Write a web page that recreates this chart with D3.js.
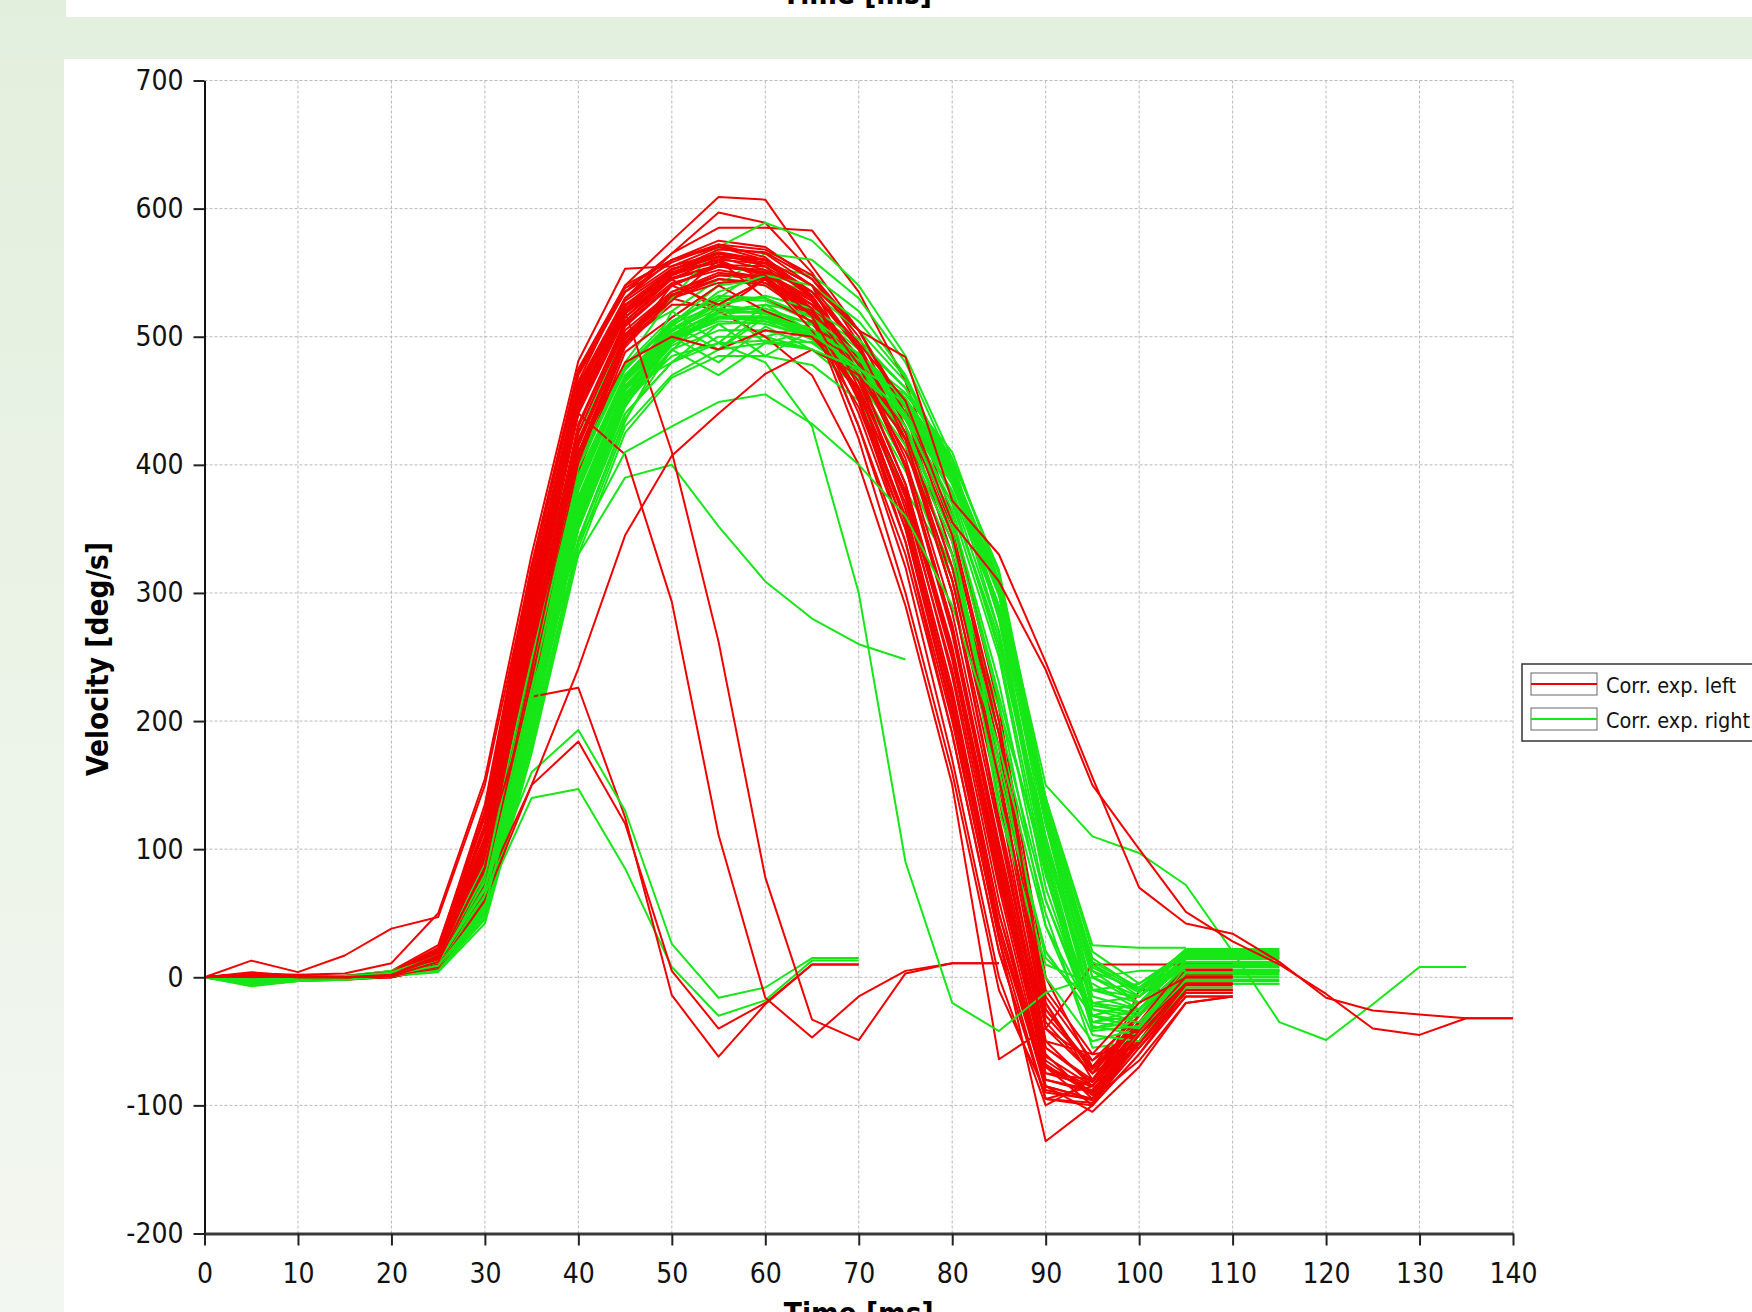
<!DOCTYPE html>
<html>
<head>
<meta charset="utf-8">
<script src="https://cdn.jsdelivr.net/npm/d3@7/dist/d3.min.js"></script>
<style>
  body { margin: 0; background: #ffffff; }
  svg { display: block; }
</style>
</head>
<body>
<svg id="svg"></svg>
<script>
// sample times (ms), one value every 5 ms
const timesMs = [0, 5, 10, 15, 20, 25, 30, 35, 40, 45, 50, 55, 60, 65, 70, 75, 80, 85, 90, 95, 100, 105, 110, 115, 120, 125, 130, 135, 140];
const xTicks = [0, 10, 20, 30, 40, 50, 60, 70, 80, 90, 100, 110, 120, 130, 140];
const yTicks = [-200, -100, 0, 100, 200, 300, 400, 500, 600, 700];
const legendLabels = ["Corr. exp. left", "Corr. exp. right"];

// Corr. exp. left (red) velocity traces [deg/s]
const leftSeries = [
  [0, 2, 0, 0, 2, 14, 95, 280, 445, 515, 545, 555, 550, 525, 470, 385, 250, 80, -75, -85, -40, -5, -5],
  [0, 1, -1, 0, 1, 10, 75, 250, 425, 505, 535, 548, 545, 520, 465, 375, 235, 60, -85, -95, -10, -10, -10],
  [0, 3, 1, 0, 3, 18, 110, 300, 460, 530, 560, 575, 570, 545, 500, 430, 320, 170, -20, -80, -35, 0, 0],
  [0, 4, 1, 1, 5, 25, 130, 315, 470, 535, 565, 585, 585, 583, 535, 465, 360, 210, 0, -70, -25, 5, 5],
  [0, 0, -2, -2, 0, 8, 60, 228, 400, 492, 530, 520, 545, 515, 480, 420, 340, 200, -10, -60, -55, -15, -15],
  [0, 13, 4, 17, 38, 47, 150, 320, 475, 540, 560, 570, 560, 530, 450, 340, 190, 20, -95, -100, -50, -10, -10],
  [0, 3, 2, 3, 11, 50, 155, 330, 481, 553, 555, 565, 555, 520, 430, 320, 170, 0, -100, -80, -30, 5, 5],
  [0, 2, 0, 0, 2, 18, 115, 305, 465, 540, 575, 609, 607, 555, 505, 440, 330, 180, -30, -70, -35, 0, 0],
  [0, 1, 0, -1, 1, 15, 100, 290, 455, 530, 565, 597, 589, 550, 495, 420, 300, 140, -50, -85, -45, -5, -5],
  [0, 2, 1, 0, 2, 12, 85, 265, 430, 510, 540, 555, 550, 520, 440, 340, 200, 30, -128, -100, -60, -10, -10],
  [0, 1, 0, 0, 1, 10, 80, 255, 420, 500, 530, 545, 540, 515, 455, 360, 220, 50, -85, -105, -70, -20, -15],
  [0, 2, 0, -1, 2, 16, 105, 295, 450, 520, 550, 560, 545, 515, 420, 300, 160, -10, -90, -95, -50, 0, 0],
  [0, 3, 1, 1, 3, 20, 120, 310, 462, 525, 545, 520, 500, 470, 400, 290, 150, -64, -40, 10, 10, 10, 10],
  [0, 1, -1, -1, 0, 8, 65, 235, 405, 495, 525, 525, 545, 510, 470, 410, 330, 190, -20, -75, -50, -10, -10],
  [0, 2, 0, 0, 3, 22, 125, 305, 455, 520, 545, 555, 550, 530, 480, 400, 275, 100, -70, -85, -40, 10, 10],
  [0, 0, -1, 0, 1, 9, 70, 240, 410, 498, 530, 542, 545, 525, 485, 420, 310, 150, -40, -75, -30, 5, 5],
  [0, 2, 1, 0, 2, 14, 90, 270, 440, 515, 548, 565, 560, 535, 490, 415, 300, 125, -40, -65, -30, 5, 5],
  [0, 3, 0, 0, 2, 17, 108, 298, 458, 528, 553, 562, 552, 522, 450, 350, 210, 40, -80, -90, -50, -10, -10],
  [0, 1, 0, -1, 1, 11, 78, 248, 415, 500, 532, 548, 548, 528, 478, 398, 268, 95, -60, -95, -65, -20, -15],
  [0, 2, 1, 1, 3, 19, 118, 308, 463, 530, 555, 570, 565, 540, 470, 365, 225, 50, -75, -80, -35, 0, 0],
  [0, 1, 0, 0, 2, 13, 88, 262, 430, 512, 542, 552, 546, 520, 465, 378, 248, 75, -70, -100, -60, -15, -15],
  [0, 2, 0, 0, 2, 15, 98, 282, 448, 520, 552, 568, 566, 545, 505, 445, 350, 200, -25, -70, -40, 0, 0],
  [0, 0, -2, -1, 0, 7, 55, 222, 395, 488, 515, 540, 520, 505, 455, 375, 255, 90, -65, -90, -50, -5, -5],
  [0, 3, 1, 0, 3, 21, 128, 318, 472, 535, 558, 572, 562, 532, 460, 355, 215, 35, -85, -95, -45, 5, 5],
  [0, 1, 0, 0, 1, 12, 82, 256, 425, 508, 540, 556, 555, 532, 480, 400, 275, 105, -55, -80, -40, 0, 0],
  [0, 2, 0, 0, 2, 14, 92, 275, 442, 518, 548, 560, 557, 535, 492, 425, 320, 160, -35, -75, -35, 10, 10],
  [0, 1, -1, 0, 1, 10, 72, 245, 415, 502, 533, 545, 542, 518, 430, 330, 190, 20, -95, -85, -40, -5, -5],
  [0, 2, 0, 0, 2, 16, 102, 288, 452, 522, 550, 563, 558, 530, 472, 385, 255, 80, -70, -90, -45, -5, -5],
  [0, 1, 0, 0, 1, 9, 68, 238, 408, 496, 528, 560, 530, 512, 458, 370, 240, 70, -80, -88, -45, -8, -8],
  [0, 2, 1, 0, 3, 19, 115, 302, 458, 525, 552, 566, 560, 532, 482, 405, 285, 115, -55, -82, -40, 3, 3],
  [0, 1, -1, -1, 1, 11, 80, 252, 418, 502, 535, 550, 546, 522, 470, 385, 258, 88, -68, -92, -52, -12, -12],
  [0, 3, 1, 1, 4, 23, 135, 322, 474, 538, 560, 572, 568, 548, 505, 440, 345, 190, -15, -65, -40, -5, -5],
  [0, 0, -1, -1, 0, 9, 66, 232, 402, 494, 540, 525, 545, 505, 445, 350, 205, 30, -95, -98, -55, -12, -12],
  [0, 2, 0, 0, 2, 15, 96, 278, 446, 518, 546, 556, 550, 528, 478, 398, 272, 100, -62, -85, -42, 6, 6],
  [0, 1, 0, 0, 1, 12, 86, 262, 432, 512, 545, 562, 560, 540, 492, 420, 310, 155, -25, -72, -38, 2, 2],
  [0, 2, 1, 0, 2, 17, 106, 292, 452, 524, 550, 558, 548, 516, 452, 356, 218, 42, -88, -96, -52, -6, -6],
  [0, 1, 0, 0, 1, 9, 70, 240, 410, 480, 500, 490, 505, 500, 460, 380, 255, 85, -70, -90, -45, -5, -5],
  // irregular trials
  [0, 2, 0, 0, 2, 15, 100, 219, 226, 125, -14, -62, -21, 10, 10],
  [0, 1, 0, 0, 1, 10, 70, 150, 184, 120, 5, -40, -20, 10, 10],
  [0, 2, 0, 0, 2, 14, 95, 290, 440, 408, 293, 111, -16, -47, -15, 5, 11, 11],
  [0, 2, 0, 0, 2, 16, 100, 300, 460, 520, 410, 262, 78, -33, -49, 3, 11, 11],
  [0, 1, 0, 0, 1, 8, 60, 150, 241, 345, 407, 440, 471, 490, 470, 420, 300, 120, -50, -60, -20, 0, 0],
  [0, 2, 0, 0, 2, 15, 100, 285, 450, 520, 550, 565, 560, 540, 505, 484, 372, 330, 246, 156, 70, 42, 34, 12, -16, -26, -29, -32, -32],
  [0, 1, 0, 0, 1, 12, 85, 265, 430, 510, 540, 555, 552, 535, 495, 450, 355, 309, 240, 150, 100, 51, 28, 10, -13, -40, -45, -32, -32]
];

// Corr. exp. right (green) velocity traces [deg/s]
const rightSeries = [
  [0, -5, -2, -1, 2, 8, 55, 200, 360, 450, 490, 505, 505, 495, 470, 430, 360, 220, 80, -20, -30, 10, 10, 10],
  [0, -3, -1, 0, 3, 12, 70, 220, 380, 465, 500, 515, 515, 500, 475, 435, 370, 260, 100, -10, -20, 15, 15, 15],
  [0, -7, -3, -2, 1, 5, 45, 180, 335, 430, 470, 490, 495, 490, 470, 440, 385, 290, 130, 10, -10, 18, 18, 18],
  [0, -2, 0, 0, 4, 15, 85, 245, 400, 475, 510, 525, 520, 505, 480, 440, 365, 250, 70, -35, -25, 5, 5, 5],
  [0, -4, -2, -1, 2, 10, 60, 205, 365, 455, 495, 520, 500, 510, 478, 445, 390, 300, 120, 0, -15, 20, 20, 20],
  [0, -6, -2, -1, 1, 6, 50, 190, 350, 440, 480, 500, 500, 490, 460, 395, 320, 200, 60, -30, -40, 0, 0, 0],
  [0, -1, 0, 1, 5, 18, 95, 280, 425, 500, 520, 545, 540, 520, 490, 445, 375, 255, 80, -40, -30, 5, 5, 5],
  [0, -3, -1, 0, 3, 11, 65, 212, 372, 460, 500, 520, 522, 510, 485, 450, 395, 305, 125, 5, -10, 12, 12, 12],
  [0, -5, -2, -1, 2, 7, 52, 195, 352, 445, 500, 490, 520, 505, 480, 440, 370, 265, 110, -20, -25, 8, 8, 8],
  [0, -2, 0, 0, 3, 14, 80, 238, 392, 470, 505, 525, 520, 500, 465, 400, 310, 190, 50, -55, -50, -5, -5, -5],
  [0, 2, 1, 0, 4, 16, 90, 255, 405, 478, 515, 540, 545, 535, 505, 465, 400, 300, 130, -10, -15, 15, 15, 15],
  [0, -4, -1, 0, 2, 9, 58, 200, 358, 450, 495, 520, 525, 518, 495, 460, 405, 315, 140, 20, -5, 20, 20, 20],
  [0, -3, -1, -1, 2, 10, 62, 208, 368, 458, 500, 530, 555, 548, 520, 470, 395, 285, 120, -25, -35, 0, 0, 0],
  [0, -6, -3, -2, 1, 4, 42, 175, 330, 425, 468, 485, 485, 478, 450, 380, 320, 210, 90, -30, -40, -5, -5, -5],
  [0, -2, 0, 1, 4, 13, 78, 235, 388, 468, 510, 540, 565, 560, 530, 480, 400, 280, 100, -35, -30, 10, 10, 10],
  [0, -1, 0, 0, 3, 15, 82, 242, 395, 480, 530, 570, 589, 575, 540, 485, 405, 285, 95, -40, -35, 5, 5, 5],
  [0, -5, -2, -1, 2, 8, 55, 198, 356, 448, 510, 490, 515, 498, 476, 442, 388, 298, 130, 15, -10, 22, 22, 22],
  [0, -3, -1, 0, 3, 12, 68, 215, 375, 462, 500, 515, 512, 498, 465, 415, 330, 150, 20, -30, -20, 12, 12, 12],
  [0, -4, -1, 0, 2, 10, 60, 203, 362, 455, 497, 518, 520, 510, 487, 452, 398, 310, 135, 5, -20, 18, 18, 18],
  [0, -2, 0, 0, 4, 14, 76, 232, 386, 466, 505, 522, 518, 503, 470, 420, 340, 170, 15, -20, -15, 10, 10, 10],
  [0, -6, -3, -1, 1, 6, 48, 185, 342, 436, 490, 470, 495, 505, 468, 425, 345, 130, 10, -5, -25, 6, 6, 6],
  [0, -3, -1, 0, 3, 11, 66, 213, 373, 460, 498, 512, 510, 500, 480, 448, 392, 300, 120, 0, -20, 10, 10, 10],
  [0, -1, 0, 1, 5, 17, 92, 252, 402, 476, 512, 530, 528, 512, 485, 445, 378, 270, 105, -25, -30, 5, 5, 5],
  [0, -5, -2, -1, 2, 8, 54, 196, 354, 447, 489, 525, 495, 496, 476, 445, 395, 308, 130, 10, -15, 16, 16, 16],
  [0, -2, 0, 0, 3, 13, 74, 228, 382, 465, 502, 520, 518, 505, 472, 425, 350, 140, 0, -50, -40, -3, -3, -3],
  [0, -4, -2, -1, 2, 9, 57, 199, 360, 452, 493, 510, 512, 505, 486, 456, 404, 318, 140, 25, 23, 23],
  [0, -3, -1, 0, 2, 10, 62, 205, 366, 455, 496, 515, 515, 505, 482, 450, 398, 305, 125, -10, -5, 17, 17, 17],
  [0, -1, 0, 0, 4, 14, 78, 236, 388, 468, 506, 528, 530, 515, 480, 430, 345, 160, 20, -30, -35, 2, 2, 2],
  [0, -4, -2, -1, 2, 9, 56, 198, 358, 450, 520, 495, 525, 504, 484, 452, 400, 300, 120, -15, -25, 14, 14, 14],
  [0, -2, 0, 0, 3, 13, 75, 232, 385, 466, 504, 525, 532, 522, 498, 460, 395, 280, 90, -38, -45, -2, -2, -2],
  [0, -5, -2, -1, 2, 8, 52, 192, 350, 460, 480, 510, 485, 505, 472, 440, 385, 290, 135, 8, -12, 19, 19, 19],
  [0, -1, 0, 0, 4, 16, 88, 248, 398, 474, 512, 532, 530, 515, 486, 440, 355, 215, 40, -45, -50, -8, -8],
  [0, -3, -1, 0, 3, 11, 64, 210, 370, 458, 498, 516, 516, 506, 482, 446, 388, 290, 110, -22, -28, 9, 9, 9],
  [0, -6, -3, -2, 1, 5, 46, 182, 340, 434, 500, 480, 508, 490, 470, 438, 380, 285, 140, 12, -8, 21, 21, 21],
  [0, -2, 0, 0, 3, 14, 80, 240, 392, 470, 508, 535, 548, 540, 512, 468, 392, 270, 85, -42, -38, 4, 4, 4],
  [0, -4, -1, 0, 2, 10, 60, 204, 364, 454, 496, 514, 514, 502, 476, 436, 360, 230, 60, -35, -40, 3, 3, 3],
  // irregular trials
  [0, -3, -1, 0, 2, 10, 60, 140, 147, 85, 8, -30, -18, 13, 13],
  [0, -2, 0, 1, 3, 12, 70, 160, 193, 130, 26, -16, -8, 15, 15],
  [0, -4, -1, 0, 2, 9, 60, 220, 330, 390, 400, 352, 309, 280, 260, 248],
  [0, -3, -1, 0, 3, 12, 70, 225, 340, 410, 430, 449, 455, 432, 400, 360, 290, 180, 40, -30, -20, 10, 10, 10],
  [0, -2, 0, 0, 3, 12, 68, 215, 370, 450, 485, 495, 480, 430, 300, 90, -20, -42, -12, 0, 5, 5],
  [0, -4, -1, 0, 2, 9, 55, 195, 350, 440, 480, 495, 497, 490, 475, 455, 410, 310, 150, 110, 97, 72, 20, -35, -49, -21, 8, 8]
];

const w = 1752;
const h = 1312;
const margin = { left: 204.5, right: 1513, top: 80.5, bottom: 1233.5 };
const redColor = "#f00000";
const greenColor = "#17e617";
const tickFont = "'DejaVu Sans Condensed', 'Liberation Sans', sans-serif";

let svg = d3.select("#svg")
  .attr("width", w)
  .attr("height", h)
  .attr("viewBox", "0 0 " + w + " " + h);

// page background (green frame of the original slide)
let defs = svg.append("defs");
let grad = defs.append("linearGradient")
  .attr("id", "sideGrad")
  .attr("x1", 0).attr("y1", 0).attr("x2", 0).attr("y2", 1);
grad.append("stop").attr("offset", "0%").attr("stop-color", "#e3efdd");
grad.append("stop").attr("offset", "100%").attr("stop-color", "#f3f7f1");

svg.append("rect").attr("x", 0).attr("y", 0).attr("width", w).attr("height", h).attr("fill", "#ffffff");
svg.append("rect").attr("x", 0).attr("y", 0).attr("width", 66).attr("height", h).attr("fill", "url(#sideGrad)");
svg.append("rect").attr("x", 0).attr("y", 17).attr("width", w).attr("height", 42).attr("fill", "#e4f0df");
svg.append("rect").attr("x", 67).attr("y", 0).attr("width", w - 67).attr("height", 17).attr("fill", "#ffffff");
svg.append("rect").attr("x", 64).attr("y", 59).attr("width", w - 64).attr("height", h - 59).attr("fill", "#ffffff");

// bottom of the previous chart's axis title, cut by the page top
svg.append("text")
  .attr("x", 857)
  .attr("y", 4)
  .attr("text-anchor", "middle")
  .style("font-family", tickFont)
  .style("font-size", "29.5px")
  .style("font-weight", "bold")
  .text("Time [ms]");

let xScale = d3.scaleLinear().domain([0, 140]).range([margin.left, margin.right]);
let yScale = d3.scaleLinear().domain([-200, 700]).range([margin.bottom, margin.top]);

// grid
let grid = svg.append("g").attr("class", "grid");
grid.selectAll(".vgrid")
  .data(xTicks.filter(d => d > 0))
  .enter()
  .append("line")
  .attr("x1", d => xScale(d)).attr("x2", d => xScale(d))
  .attr("y1", margin.top).attr("y2", margin.bottom)
  .attr("stroke", "#b9b9b9").attr("stroke-width", 1).attr("stroke-dasharray", "3,2");
grid.selectAll(".hgrid")
  .data(yTicks.filter(d => d > -200))
  .enter()
  .append("line")
  .attr("x1", margin.left).attr("x2", margin.right)
  .attr("y1", d => yScale(d)).attr("y2", d => yScale(d))
  .attr("stroke", "#b9b9b9").attr("stroke-width", 1).attr("stroke-dasharray", "3,2");

// traces, left and right trials interleaved
let line = d3.line()
  .x((d, i) => xScale(timesMs[i]))
  .y(d => yScale(d));

let traces = svg.append("g").attr("class", "traces")
  .attr("fill", "none")
  .attr("stroke-width", 2)
  .attr("stroke-linejoin", "round");

let n = Math.max(leftSeries.length, rightSeries.length);
for (let i = 0; i < n; i++) {
  if (leftSeries[i]) {
    traces.append("path").attr("d", line(leftSeries[i])).attr("stroke", redColor);
  }
  if (rightSeries[i]) {
    traces.append("path").attr("d", line(rightSeries[i])).attr("stroke", greenColor);
  }
}

// axes (plain hyphen for negatives, as in the original)
let yAxis = d3.axisLeft(yScale).tickValues(yTicks).tickFormat(d => String(d))
  .tickSize(11).tickSizeOuter(0).tickPadding(10);
let yG = svg.append("g")
  .attr("transform", "translate(" + margin.left + ",0)")
  .call(yAxis);
yG.select(".domain").attr("stroke", "#111").attr("stroke-width", 2);
yG.selectAll(".tick line").attr("stroke", "#222").attr("stroke-width", 2);
yG.selectAll("text")
  .style("font-family", tickFont)
  .style("font-size", "28px")
  .attr("fill", "#111");

let xAxis = d3.axisBottom(xScale).tickValues(xTicks).tickFormat(d => String(d))
  .tickSize(12).tickSizeOuter(0).tickPadding(18);
let xG = svg.append("g")
  .attr("transform", "translate(0," + margin.bottom + ")")
  .call(xAxis);
xG.select(".domain").attr("stroke", "#3a3a3a").attr("stroke-width", 3);
xG.selectAll(".tick line").attr("stroke", "#222").attr("stroke-width", 2);
xG.selectAll("text")
  .style("font-family", tickFont)
  .style("font-size", "28px")
  .attr("fill", "#111");

// axis titles
svg.append("text")
  .attr("class", "y-axis-label")
  .attr("transform", "translate(108," + ((margin.top + margin.bottom) / 2 + 2) + ") rotate(-90)")
  .attr("text-anchor", "middle")
  .style("font-family", tickFont)
  .style("font-size", "29.5px")
  .style("font-weight", "bold")
  .text("Velocity [deg/s]");

// only the top of this title fits on the page, as in the original
svg.append("text")
  .attr("class", "x-axis-label")
  .attr("x", (margin.left + margin.right) / 2)
  .attr("y", 1324)
  .attr("text-anchor", "middle")
  .style("font-family", tickFont)
  .style("font-size", "29.5px")
  .style("font-weight", "bold")
  .text("Time [ms]");

// legend
let legend = svg.append("g").attr("class", "legend");
legend.append("rect")
  .attr("x", 1522).attr("y", 664).attr("width", 250).attr("height", 77)
  .attr("fill", "#ffffff").attr("stroke", "#333").attr("stroke-width", 1.5);
let legendColors = [redColor, greenColor];
legendLabels.forEach((label, i) => {
  let cy = 684 + i * 35;
  legend.append("rect")
    .attr("x", 1531).attr("y", cy - 11).attr("width", 66).attr("height", 22)
    .attr("fill", "#ffffff").attr("stroke", "#666").attr("stroke-width", 1);
  legend.append("line")
    .attr("x1", 1531).attr("x2", 1597).attr("y1", cy).attr("y2", cy)
    .attr("stroke", legendColors[i]).attr("stroke-width", 2);
  legend.append("text")
    .attr("x", 1606).attr("y", cy + 9)
    .style("font-family", tickFont)
    .style("font-size", "21.5px")
    .attr("fill", "#111")
    .text(label);
});
</script>
</body>
</html>
